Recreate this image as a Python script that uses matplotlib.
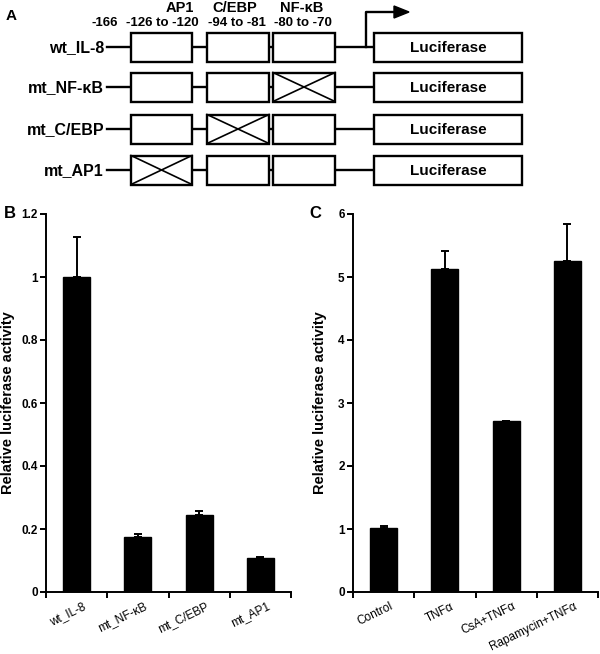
import numpy as np
import matplotlib
matplotlib.use('Agg')
import matplotlib.pyplot as plt
from matplotlib.patches import Rectangle, Polygon

plt.rcParams['font.family'] = ['Liberation Sans', 'DejaVu Sans']

# panel A: constructs
constructs = ['wt_IL-8', 'mt_NF-\u03baB', 'mt_C/EBP', 'mt_AP1']
mutated = [None, 2, 1, 0]          # which site box is crossed out
site_names = ['AP1', 'C/EBP', 'NF-\u03baB']
site_ranges = ['-126 to -120', '-94 to -81', '-80 to -70']
start_pos = '-166'

# panel B
b_labels = ['wt_IL-8', 'mt_NF-\u03baB', 'mt_C/EBP', 'mt_AP1']
b_values = [1.0, 0.175, 0.245, 0.108]
b_errors = [0.126, 0.008, 0.011, 0.002]

# panel C
c_labels = ['Control', 'TNF\u03b1', 'CsA+TNF\u03b1', 'Rapamycin+TNF\u03b1']
c_values = [1.01, 5.13, 2.72, 5.25]
c_errors = [0.04, 0.29, 0.0, 0.59]

W, H = 600, 654
fig = plt.figure(figsize=(W / 100, H / 100), dpi=100)

# ---------- panel A (drawn in pixel coordinates) ----------
axA = fig.add_axes([0, 0, 1, 1], zorder=-1)
axA.set_xlim(0, W)
axA.set_ylim(H, 0)
axA.axis('off')

row_y = [47, 87, 129, 170]
box_h = 29
site_x = [(131, 192), (207, 269), (273, 335)]
luc_x = (374, 522)
line_x0 = 107
lw = 1.7

for name, mut, y in zip(constructs, mutated, row_y):
    axA.plot([line_x0, luc_x[0]], [y, y], color='black', lw=lw, zorder=1)
    axA.text(line_x0 - 3, y + 1, name, ha='right', va='center',
             fontsize=11.5, fontweight='bold')
    for i, (x0, x1) in enumerate(site_x):
        axA.add_patch(Rectangle((x0, y - box_h / 2), x1 - x0, box_h,
                                facecolor='white', edgecolor='black', lw=lw, zorder=2))
        if mut == i:
            axA.plot([x0, x1], [y - box_h / 2, y + box_h / 2], color='black', lw=1.2, zorder=3)
            axA.plot([x0, x1], [y + box_h / 2, y - box_h / 2], color='black', lw=1.2, zorder=3)
    axA.add_patch(Rectangle((luc_x[0], y - box_h / 2), luc_x[1] - luc_x[0], box_h,
                            facecolor='white', edgecolor='black', lw=lw, zorder=2))
    axA.text((luc_x[0] + luc_x[1]) / 2, y + 1, 'Luciferase', ha='center', va='center',
             fontsize=11, fontweight='bold')

# transcription start arrow
arr_x, arr_top = 366, 12
axA.plot([arr_x, arr_x, 396], [row_y[0], arr_top, arr_top], color='black', lw=lw)
axA.add_patch(Polygon([[394, arr_top - 6], [409, arr_top], [394, arr_top + 6]],
                      closed=True, facecolor='black', edgecolor='black'))

# site headers
name_x = [180, 235, 302]
range_x = [162, 237, 303]
for nm, rg, nx, rx in zip(site_names, site_ranges, name_x, range_x):
    axA.text(nx, 8, nm, ha='center', va='center', fontsize=10.5, fontweight='bold')
    axA.text(rx, 23, rg, ha='center', va='center', fontsize=9.5, fontweight='bold')
axA.text(105, 23, start_pos, ha='center', va='center', fontsize=9.5, fontweight='bold')
axA.text(11, 16, 'A', ha='center', va='center', fontsize=11, fontweight='bold')
axA.text(10, 213, 'B', ha='center', va='center', fontsize=12, fontweight='bold')
axA.text(315, 213, 'C', ha='center', va='center', fontsize=12, fontweight='bold')


# ---------- bar panels ----------
def bar_panel(rect, labels, values, errors, ymax, ystep, yfmt):
    ax = fig.add_axes(rect)
    pos = np.arange(len(labels)) + 0.5
    ax.bar(pos, values, width=0.44, color='black', edgecolor='black')
    ax.errorbar(pos, values, yerr=[np.zeros(len(errors)), errors], fmt='none',
                ecolor='black', elinewidth=1.4, capsize=3, capthick=1.4)
    ax.set_xlim(0, len(labels))
    ax.set_ylim(0, ymax)
    ax.spines['top'].set_visible(False)
    ax.spines['right'].set_visible(False)
    ax.spines['left'].set_linewidth(1.4)
    ax.spines['bottom'].set_linewidth(1.4)
    ax.set_xticks(np.arange(len(labels) + 1))
    ax.set_xticklabels([])
    ax.set_xticks(pos + 0.1, minor=True)
    ax.set_xticklabels(labels, minor=True, rotation=26, ha='right',
                       rotation_mode='anchor', fontsize=8.5)
    ax.tick_params(axis='x', which='minor', length=0, pad=6)
    ax.tick_params(axis='x', which='major', length=4, width=1.4, direction='out')
    ticks = np.arange(0, ymax + ystep / 2, ystep)
    ax.set_yticks(ticks)
    ax.set_yticklabels([yfmt(t) for t in ticks], fontsize=8.5, fontweight='bold')
    ax.tick_params(axis='y', length=4, width=1.4, direction='out', pad=2)
    ax.set_ylabel('Relative luciferase activity', fontsize=10.5, fontweight='bold')
    return ax


def fmt_b(t):
    s = '%.1f' % t
    return s.rstrip('0').rstrip('.') if '.' in s else s


axB = bar_panel([46 / W, 62 / H, 245 / W, 378 / H], b_labels, b_values, b_errors,
                1.2, 0.2, fmt_b)
axB.yaxis.set_label_coords(-0.125, 0.5)

axC = bar_panel([353 / W, 62 / H, 245 / W, 378 / H], c_labels, c_values, c_errors,
                6, 1, lambda t: '%d' % t)
axC.yaxis.set_label_coords(-0.105, 0.5)

fig.savefig('out.png', dpi=100)
